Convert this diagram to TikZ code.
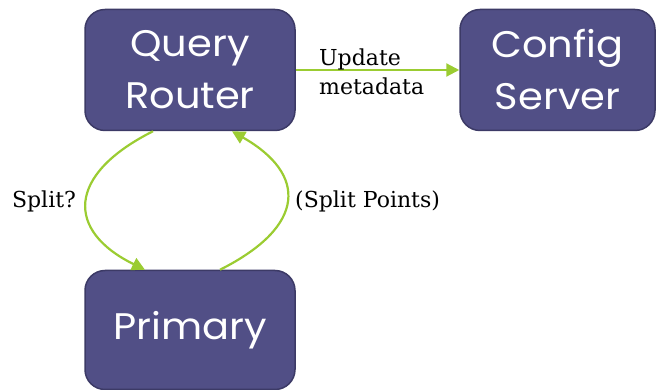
\documentclass[tikz,border=0pt]{standalone}
\usepackage{fontspec}
\usetikzlibrary{arrows.meta,calc}
\newfontfamily\boxfont[FakeStretch=1.08]{Poppins}
\newfontfamily\labfont{DejaVu Serif}
\definecolor{boxfill}{RGB}{81,79,134}
\definecolor{boxline}{RGB}{60,58,102}
\definecolor{arrowgreen}{RGB}{155,204,50}
\begin{document}
\begin{tikzpicture}[x=1pt,y=-1pt,
  bluebox/.style={draw=boxline, line width=1.5pt, fill=boxfill, rounded corners=20pt,
    text=white, align=center, inner sep=0pt,
    font=\boxfont\fontsize{37}{52}\selectfont},
  conn/.style={draw=arrowgreen, line width=2.2pt,
    -{Triangle[length=13pt,width=13pt]}},
  lab/.style={font=\labfont\fontsize{22}{29}\selectfont, text=black, inner sep=0pt}]
\useasboundingbox (0,0) rectangle (657,390);
\node[bluebox, minimum width=210pt, minimum height=121pt] (qr) at (190,70) {Query\\Router};
\node[bluebox, minimum width=195pt, minimum height=121pt] (cs) at (557.5,70) {Config\\Server};
\node[bluebox, minimum width=210pt, minimum height=119pt] (pr) at (190,330) {Primary};
\draw[conn] (qr.east) -- (cs.west);
\node[lab, anchor=west, align=left] (upd) at (319,72) {Update\\metadata};
\draw[conn] ([xshift=-37pt]qr.south) .. controls (66,175) and (66,231) .. ([xshift=-45pt]pr.north);
\draw[conn] ([xshift=30pt]pr.north) .. controls (307,226) and (307,174) .. ([xshift=42pt]qr.south);
\node[lab] (sp) at (44,201) {Split?};
\node[lab, anchor=west] (spp) at (295,201) {(Split Points)};
\end{tikzpicture}
\end{document}
